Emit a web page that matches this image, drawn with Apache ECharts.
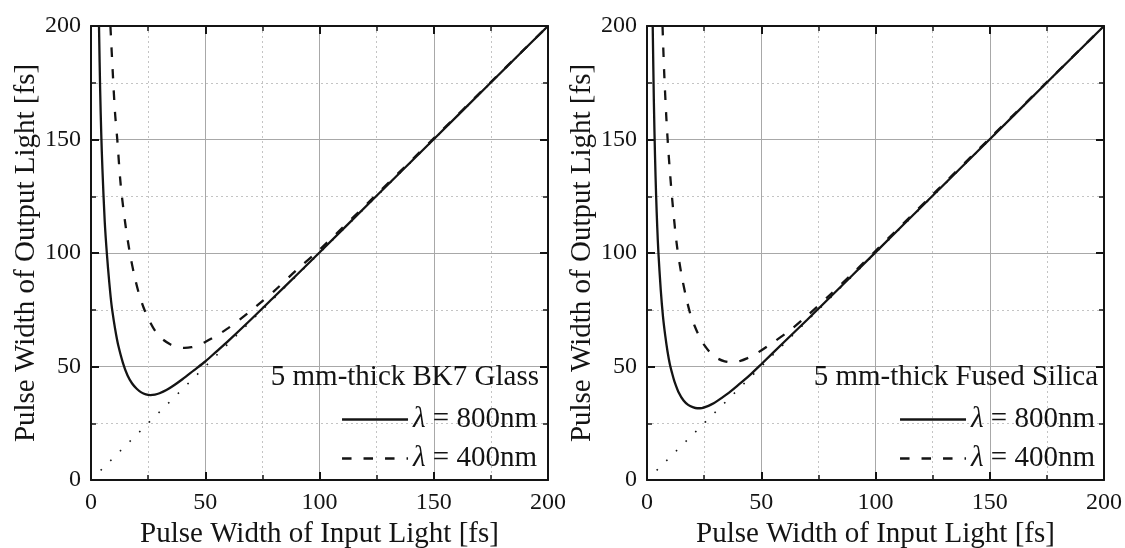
<!DOCTYPE html>
<html>
<head>
<meta charset="utf-8">
<script src="https://cdn.jsdelivr.net/npm/echarts@6/dist/echarts.min.js"></script>
<style>html,body{margin:0;padding:0;background:#fff}#c{width:1125px;height:548px}</style>
</head>
<body>
<div id="c"></div>
<script>
// ---- data ----
const panelTitles = ['5 mm-thick BK7 Glass', '5 mm-thick Fused Silica'];
const seriesNames = ['λ = 800nm', 'λ = 400nm'];
const xAxisName = 'Pulse Width of Input Light [fs]';
const yAxisName = 'Pulse Width of Output Light [fs]';

const bk7_800 = [[3.5,200],[4,172],[4.5,152],[5,137],[6,114],[7,99],[8,87],[9,77],[10,70],[11,64],[12,59],[14,51.5],[16,46],[18,42.5],[20,40.2],[22,38.6],[24,37.7],[26,37.4],[28,37.6],[30,38.2],[33,39.6],[36,41.5],[40,44.4],[45,48.3],[50,52.2],[55,56.7],[60,61.2],[70,70.7],[80,80.5],[90,90.3],[100,100.2],[125,125.2],[150,150.1],[175,175.1],[200,200]];
const bk7_400 = [[8.5,200],[9.5,180],[10.5,162],[11.5,150],[13,130],[15,113],[17,100],[19,90],[21,82],[23,76],[25,71.3],[28,65.8],[31,62.3],[35,59.6],[38,58.6],[41,58.2],[44,58.5],[47,59.4],[50,60.8],[55,63.6],[60,66.9],[65,70.6],[70,74.6],[75,78.8],[80,83.1],[90,92.5],[100,101.4],[125,125.8],[150,150.5],[175,175.3],[200,200]];
const fs_800 = [[2.5,200],[3,167],[3.5,143],[4,125],[4.5,111],[5,100],[6,84],[7,72],[8,63.5],[9,56.5],[10,51],[11,47],[12,43.5],[14,38.3],[16,35],[18,33.1],[20,32.1],[22,31.6],[24,31.7],[26,32.3],[28,33.2],[30,34.3],[35,37.8],[40,41.9],[45,46.2],[50,51],[60,60.8],[70,70.5],[80,80.4],[90,90.3],[100,100.3],[125,125.2],[150,150.1],[175,175.1],[200,200]];
const fs_400 = [[6.8,200],[7.5,180],[8.5,159],[9.5,143],[11,124],[13,104],[15,91],[17,81],[19,73],[21,67.5],[23,63],[25,59.5],[28,55.8],[31,53.5],[34,52.3],[37,51.9],[40,52.2],[44,53.7],[48,55.8],[55,60.5],[62,65.5],[70,72.3],[80,81.5],[90,91],[100,100.9],[125,125.7],[150,150.5],[175,175.3],[200,200]];
const diagonal = [[0,0],[200,200]];

const axisMin = 0, axisMax = 200, axisStep = 50;

// ---- chart ----
const FONT = 'Liberation Serif';
const INK = '#141414';
const grids = [
  {left: 91, top: 26, width: 457, height: 454, outerBoundsMode: 'none', containLabel: false},
  {left: 647, top: 26, width: 457, height: 454, outerBoundsMode: 'none', containLabel: false}
];

function mainAxis(type, gi, pos) {
  const isX = type === 'x';
  return {
    type: 'value', gridIndex: gi, position: pos,
    min: axisMin, max: axisMax, interval: axisStep,
    name: isX ? xAxisName : yAxisName,
    nameLocation: 'middle',
    nameGap: isX ? 38 : 50,
    nameTextStyle: {fontFamily: FONT, fontSize: 29, color: INK},
    axisLine: {show: true, onZero: false, lineStyle: {color: INK, width: 2}},
    axisTick: {show: true, inside: true, length: 8, lineStyle: {color: INK, width: 2}},
    minorTick: {show: true, splitNumber: 2, length: 5, lineStyle: {color: INK, width: 1.5}},
    axisLabel: {show: true, fontFamily: FONT, fontSize: 24, color: INK, margin: isX ? 11 : 10},
    splitLine: {show: true, lineStyle: {color: '#a8a8a8', width: 1}},
    minorSplitLine: {show: true, lineStyle: {color: '#c4c4c4', width: 1, type: [2, 3]}}
  };
}
function sideAxis(gi, pos) {
  return {
    type: 'value', gridIndex: gi, position: pos,
    min: axisMin, max: axisMax, interval: axisStep,
    axisLine: {show: true, onZero: false, lineStyle: {color: INK, width: 2}},
    axisTick: {show: true, inside: true, length: 8, lineStyle: {color: INK, width: 2}},
    minorTick: {show: true, splitNumber: 2, length: 5, lineStyle: {color: INK, width: 1.5}},
    axisLabel: {show: false},
    splitLine: {show: false}
  };
}

const xAxes = [], yAxes = [];
[0, 1].forEach(gi => {
  xAxes.push(mainAxis('x', gi, 'bottom'));
  xAxes.push(sideAxis(gi, 'top'));
  yAxes.push(mainAxis('y', gi, 'left'));
  yAxes.push(sideAxis(gi, 'right'));
});

const panelData = [[bk7_800, bk7_400], [fs_800, fs_400]];
const series = [];
[0, 1].forEach(gi => {
  series.push({
    type: 'line', name: 'diag' + gi, data: diagonal,
    xAxisIndex: gi * 2, yAxisIndex: gi * 2,
    symbol: 'none', silent: true, z: 1,
    lineStyle: {color: INK, width: 1.6, type: [1.6, 12]}
  });
  series.push({
    type: 'line', name: seriesNames[1], data: panelData[gi][1],
    xAxisIndex: gi * 2, yAxisIndex: gi * 2,
    symbol: 'none', smooth: 0.3, z: 2,
    lineStyle: {color: INK, width: 2.3, type: [9.5, 12]},
    itemStyle: {color: INK}
  });
  series.push({
    type: 'line', name: seriesNames[0], data: panelData[gi][0],
    xAxisIndex: gi * 2, yAxisIndex: gi * 2,
    symbol: 'none', smooth: 0.3, z: 3,
    lineStyle: {color: INK, width: 2.3, type: 'solid'},
    itemStyle: {color: INK}
  });
});

const legendRights = [588, 30];
const legends = legendRights.map(r => ({
  right: r, top: 405, orient: 'vertical', padding: 0,
  data: seriesNames, itemWidth: 66, itemHeight: 14, itemGap: 10,
  selectedMode: false,
  itemStyle: {opacity: 0},
  lineStyle: {width: 2.3},
  formatter: n => '{i|λ}' + n.slice(1),
  textStyle: {fontFamily: FONT, fontSize: 29, color: INK, lineHeight: 29,
    rich: {i: {fontFamily: FONT, fontStyle: 'italic', fontSize: 29, color: INK}}}
}));
const titles = panelTitles.map((t, i) => ({
  text: t, right: i === 0 ? 586 : 27, top: 363, padding: 0,
  textStyle: {fontFamily: FONT, fontSize: 29, fontWeight: 'normal', color: INK}
}));

const chart = echarts.init(document.getElementById('c'), null, {renderer: 'canvas'});
chart.setOption({
  backgroundColor: '#fff',
  animation: false,
  title: titles,
  legend: legends,
  grid: grids,
  xAxis: xAxes,
  yAxis: yAxes,
  series: series
});
</script>
</body>
</html>
